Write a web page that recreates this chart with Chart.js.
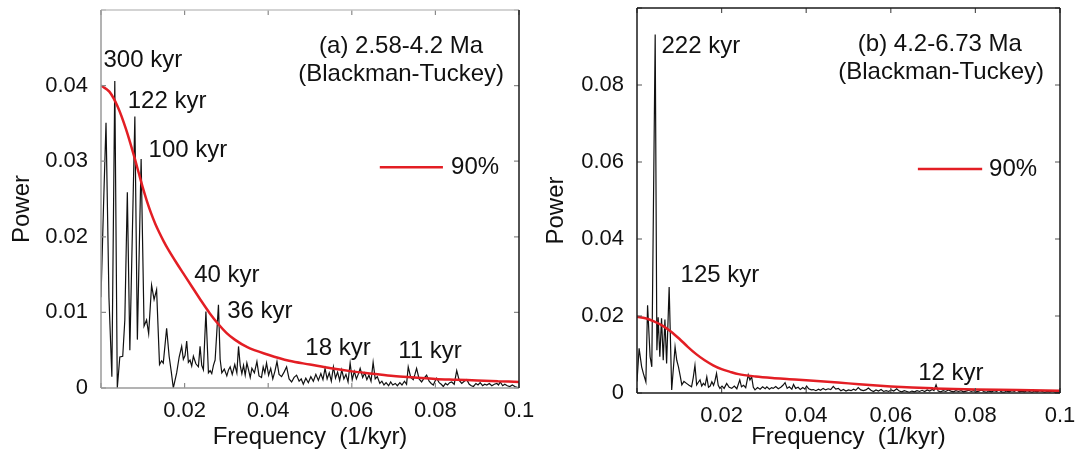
<!DOCTYPE html>
<html>
<head>
<meta charset="utf-8">
<script src="https://cdn.jsdelivr.net/npm/chart.js@4.4.1/dist/chart.umd.min.js"></script>
<style>
body { margin: 0; background: #fff; }
#wrap { position: relative; width: 1081px; height: 460px; overflow: hidden; }
canvas { position: absolute; top: 0; }
#chartA { left: 0; }
#chartB { left: 530px; }
</style>
</head>
<body>
<div id="wrap">
<canvas id="chartA" width="560" height="460"></canvas>
<canvas id="chartB" width="551" height="460"></canvas>
</div>
<script>
// ticks
var xTicks = [0, 0.02, 0.04, 0.06, 0.08, 0.1];
var xTickLabels = ["", "0.02", "0.04", "0.06", "0.08", "0.1"];
var yTicksA = [0, 0.01, 0.02, 0.03, 0.04, 0.05];
var yTickLabelsA = ["0", "0.01", "0.02", "0.03", "0.04", ""];
var yTicksB = [0, 0.02, 0.04, 0.06, 0.08, 0.1];
var yTickLabelsB = ["0", "0.02", "0.04", "0.06", "0.08", ""];

// (a) 2.58-4.2 Ma spectrum, [frequency, power]
var spectrumA = [
  [0.0000, 0.0120], [0.0006, 0.0240], [0.0012, 0.0351], [0.0019, 0.0120], [0.0026, 0.0015],
  [0.0033, 0.0406], [0.0039, 0.0000], [0.0045, 0.0041], [0.0052, 0.0042], [0.0057, 0.0090],
  [0.0063, 0.0259], [0.0069, 0.0050], [0.0081, 0.0359], [0.0087, 0.0064], [0.0096, 0.0303],
  [0.0103, 0.0082], [0.0109, 0.0090], [0.0114, 0.0072], [0.0121, 0.0136], [0.0127, 0.0117],
  [0.0133, 0.0130], [0.0140, 0.0031], [0.0145, 0.0036], [0.0149, 0.0033], [0.0157, 0.0079],
  [0.0163, 0.0042], [0.0168, 0.0022], [0.0173, 0.0000], [0.0181, 0.0020], [0.0187, 0.0041],
  [0.0193, 0.0055], [0.0197, 0.0038], [0.0201, 0.0043], [0.0205, 0.0062], [0.0209, 0.0034],
  [0.0213, 0.0037], [0.0217, 0.0029], [0.0221, 0.0042], [0.0227, 0.0032], [0.0233, 0.0028],
  [0.0237, 0.0055], [0.0241, 0.0030], [0.0245, 0.0024], [0.0251, 0.0101], [0.0257, 0.0020],
  [0.0261, 0.0023], [0.0265, 0.0019], [0.0269, 0.0030], [0.0273, 0.0037], [0.0281, 0.0110],
  [0.0285, 0.0038], [0.0289, 0.0020], [0.0295, 0.0025], [0.0301, 0.0016], [0.0305, 0.0024],
  [0.0309, 0.0028], [0.0314, 0.0018], [0.0320, 0.0031], [0.0325, 0.0020], [0.0329, 0.0055],
  [0.0333, 0.0030], [0.0337, 0.0019], [0.0341, 0.0030], [0.0345, 0.0017], [0.0349, 0.0033],
  [0.0353, 0.0024], [0.0357, 0.0014], [0.0361, 0.0026], [0.0367, 0.0020], [0.0373, 0.0035],
  [0.0378, 0.0016], [0.0384, 0.0014], [0.0388, 0.0028], [0.0392, 0.0020], [0.0396, 0.0033],
  [0.0401, 0.0017], [0.0406, 0.0026], [0.0411, 0.0012], [0.0416, 0.0022], [0.0421, 0.0035],
  [0.0426, 0.0018], [0.0432, 0.0015], [0.0438, 0.0021], [0.0444, 0.0028], [0.0450, 0.0012],
  [0.0456, 0.0008], [0.0462, 0.0014], [0.0468, 0.0017], [0.0474, 0.0009], [0.0479, 0.0012],
  [0.0484, 0.0005], [0.0490, 0.0013], [0.0496, 0.0007], [0.0502, 0.0015], [0.0508, 0.0009],
  [0.0514, 0.0018], [0.0520, 0.0010], [0.0526, 0.0019], [0.0531, 0.0011], [0.0536, 0.0026],
  [0.0541, 0.0012], [0.0546, 0.0020], [0.0551, 0.0009], [0.0556, 0.0028], [0.0561, 0.0013],
  [0.0566, 0.0021], [0.0571, 0.0010], [0.0576, 0.0024], [0.0581, 0.0012], [0.0586, 0.0018],
  [0.0591, 0.0008], [0.0596, 0.0033], [0.0601, 0.0011], [0.0606, 0.0022], [0.0611, 0.0012],
  [0.0616, 0.0019], [0.0620, 0.0026], [0.0626, 0.0014], [0.0631, 0.0020], [0.0636, 0.0011],
  [0.0641, 0.0017], [0.0646, 0.0009], [0.0651, 0.0034], [0.0656, 0.0012], [0.0661, 0.0015],
  [0.0667, 0.0006], [0.0672, 0.0009], [0.0677, 0.0004], [0.0682, 0.0007], [0.0688, 0.0003],
  [0.0693, 0.0008], [0.0698, 0.0004], [0.0704, 0.0006], [0.0709, 0.0003], [0.0715, 0.0007],
  [0.0720, 0.0004], [0.0726, 0.0009], [0.0731, 0.0005], [0.0735, 0.0028], [0.0741, 0.0014],
  [0.0747, 0.0011], [0.0751, 0.0018], [0.0755, 0.0026], [0.0761, 0.0012], [0.0767, 0.0008],
  [0.0773, 0.0013], [0.0779, 0.0017], [0.0785, 0.0009], [0.0790, 0.0006], [0.0795, 0.0004],
  [0.0799, 0.0009], [0.0803, 0.0013], [0.0809, 0.0007], [0.0814, 0.0005], [0.0819, 0.0002],
  [0.0824, 0.0006], [0.0829, 0.0004], [0.0834, 0.0007], [0.0839, 0.0008], [0.0845, 0.0005],
  [0.0851, 0.0023], [0.0857, 0.0010], [0.0863, 0.0006], [0.0869, 0.0009], [0.0875, 0.0011],
  [0.0881, 0.0005], [0.0886, 0.0003], [0.0891, 0.0002], [0.0897, 0.0006], [0.0902, 0.0004],
  [0.0907, 0.0007], [0.0913, 0.0003], [0.0918, 0.0005], [0.0923, 0.0004], [0.0929, 0.0006],
  [0.0935, 0.0003], [0.0941, 0.0005], [0.0947, 0.0006], [0.0951, 0.0004], [0.0955, 0.0008],
  [0.0961, 0.0003], [0.0966, 0.0005], [0.0972, 0.0003], [0.0978, 0.0002], [0.0984, 0.0004],
  [0.0990, 0.0002], [0.0995, 0.0001], [0.1000, 0.0000]
];

// (a) 90% confidence level
var levelA = [
  [0.000, 0.0400], [0.002, 0.0392], [0.004, 0.0372], [0.006, 0.0342], [0.008, 0.0305],
  [0.009, 0.0285], [0.010, 0.0265], [0.011, 0.0247], [0.012, 0.0231], [0.013, 0.0217],
  [0.014, 0.0205], [0.015, 0.0194], [0.016, 0.0184], [0.018, 0.0166], [0.020, 0.0149],
  [0.022, 0.0132], [0.024, 0.0115], [0.026, 0.0099], [0.028, 0.0085], [0.030, 0.0073],
  [0.032, 0.0064], [0.035, 0.0054], [0.040, 0.0044], [0.045, 0.0036], [0.050, 0.0031],
  [0.055, 0.0026], [0.060, 0.0022], [0.065, 0.0019], [0.070, 0.0016], [0.075, 0.0014],
  [0.080, 0.0012], [0.085, 0.0011], [0.090, 0.0010], [0.095, 0.0009], [0.100, 0.0008]
];

// (b) 4.2-6.73 Ma spectrum, [frequency, power]
var spectrumB = [
  [0.0000, 0.0030], [0.0005, 0.0116], [0.0011, 0.0068], [0.0015, 0.0051], [0.0021, 0.0029],
  [0.0025, 0.0228], [0.0031, 0.0094], [0.0035, 0.0068], [0.0043, 0.0931], [0.0047, 0.0111],
  [0.0050, 0.0197], [0.0054, 0.0094], [0.0058, 0.0194], [0.0062, 0.0085], [0.0066, 0.0191],
  [0.0070, 0.0077], [0.0073, 0.0174], [0.0076, 0.0275], [0.0082, 0.0008], [0.0090, 0.0120],
  [0.0094, 0.0085], [0.0098, 0.0068], [0.0102, 0.0045], [0.0106, 0.0021], [0.0111, 0.0030],
  [0.0117, 0.0025], [0.0123, 0.0020], [0.0129, 0.0016], [0.0133, 0.0040], [0.0137, 0.0072],
  [0.0141, 0.0021], [0.0145, 0.0028], [0.0149, 0.0034], [0.0153, 0.0018], [0.0157, 0.0025],
  [0.0161, 0.0020], [0.0165, 0.0042], [0.0169, 0.0015], [0.0173, 0.0018], [0.0177, 0.0029],
  [0.0181, 0.0020], [0.0184, 0.0030], [0.0188, 0.0051], [0.0192, 0.0020], [0.0196, 0.0012],
  [0.0201, 0.0018], [0.0206, 0.0012], [0.0212, 0.0025], [0.0218, 0.0015], [0.0224, 0.0012],
  [0.0230, 0.0018], [0.0236, 0.0011], [0.0243, 0.0034], [0.0247, 0.0016], [0.0252, 0.0020],
  [0.0257, 0.0014], [0.0263, 0.0047], [0.0267, 0.0034], [0.0271, 0.0042], [0.0275, 0.0015],
  [0.0279, 0.0008], [0.0285, 0.0014], [0.0291, 0.0010], [0.0297, 0.0016], [0.0303, 0.0011],
  [0.0307, 0.0016], [0.0313, 0.0010], [0.0318, 0.0014], [0.0322, 0.0012], [0.0328, 0.0017],
  [0.0334, 0.0011], [0.0340, 0.0015], [0.0345, 0.0020], [0.0350, 0.0027], [0.0355, 0.0012],
  [0.0360, 0.0016], [0.0366, 0.0010], [0.0370, 0.0022], [0.0375, 0.0012], [0.0381, 0.0015],
  [0.0386, 0.0009], [0.0392, 0.0014], [0.0397, 0.0010], [0.0401, 0.0018], [0.0406, 0.0011],
  [0.0412, 0.0008], [0.0417, 0.0009], [0.0423, 0.0006], [0.0429, 0.0010], [0.0434, 0.0007],
  [0.0440, 0.0012], [0.0446, 0.0008], [0.0452, 0.0011], [0.0458, 0.0009], [0.0464, 0.0017],
  [0.0470, 0.0010], [0.0476, 0.0012], [0.0482, 0.0006], [0.0488, 0.0009], [0.0494, 0.0005],
  [0.0500, 0.0008], [0.0506, 0.0006], [0.0512, 0.0010], [0.0517, 0.0007], [0.0523, 0.0014],
  [0.0529, 0.0008], [0.0535, 0.0006], [0.0541, 0.0008], [0.0547, 0.0013], [0.0553, 0.0007],
  [0.0559, 0.0004], [0.0565, 0.0008], [0.0571, 0.0005], [0.0577, 0.0009], [0.0583, 0.0004],
  [0.0589, 0.0006], [0.0595, 0.0004], [0.0601, 0.0008], [0.0607, 0.0005], [0.0614, 0.0011],
  [0.0620, 0.0005], [0.0626, 0.0003], [0.0632, 0.0006], [0.0638, 0.0004], [0.0644, 0.0002],
  [0.0650, 0.0005], [0.0656, 0.0003], [0.0662, 0.0006], [0.0668, 0.0004], [0.0674, 0.0007],
  [0.0680, 0.0004], [0.0686, 0.0008], [0.0692, 0.0005], [0.0698, 0.0009], [0.0702, 0.0006],
  [0.0707, 0.0021], [0.0712, 0.0005], [0.0718, 0.0003], [0.0724, 0.0006], [0.0730, 0.0004],
  [0.0736, 0.0008], [0.0742, 0.0005], [0.0748, 0.0003], [0.0754, 0.0006], [0.0760, 0.0004],
  [0.0766, 0.0006], [0.0772, 0.0003], [0.0778, 0.0005], [0.0784, 0.0007], [0.0790, 0.0004],
  [0.0796, 0.0006], [0.0802, 0.0003], [0.0808, 0.0005], [0.0814, 0.0008], [0.0820, 0.0004],
  [0.0826, 0.0002], [0.0832, 0.0005], [0.0838, 0.0003], [0.0844, 0.0006], [0.0850, 0.0004],
  [0.0856, 0.0007], [0.0862, 0.0003], [0.0868, 0.0002], [0.0874, 0.0005], [0.0880, 0.0003],
  [0.0886, 0.0006], [0.0892, 0.0004], [0.0898, 0.0008], [0.0904, 0.0003], [0.0910, 0.0005],
  [0.0916, 0.0003], [0.0922, 0.0006], [0.0928, 0.0004], [0.0934, 0.0002], [0.0940, 0.0005],
  [0.0946, 0.0003], [0.0952, 0.0006], [0.0958, 0.0004], [0.0964, 0.0002], [0.0970, 0.0004],
  [0.0976, 0.0003], [0.0982, 0.0005], [0.0988, 0.0002], [0.0994, 0.0003], [0.1000, 0.0002]
];

// (b) 90% confidence level
var levelB = [
  [0.000, 0.0198], [0.002, 0.0194], [0.004, 0.0186], [0.006, 0.0175], [0.008, 0.0160],
  [0.010, 0.0141], [0.012, 0.0120], [0.014, 0.0101], [0.016, 0.0085], [0.018, 0.0072],
  [0.020, 0.0062], [0.022, 0.0055], [0.024, 0.0049], [0.028, 0.0043], [0.032, 0.0039],
  [0.036, 0.0036], [0.040, 0.0033], [0.045, 0.0029], [0.050, 0.0025], [0.055, 0.0021],
  [0.060, 0.0017], [0.065, 0.0014], [0.070, 0.0012], [0.080, 0.0009], [0.090, 0.0008],
  [0.100, 0.0006]
];

// peak labels (placed in data units)
var notesA = [
  { text: "300 kyr", x: 0.0100, y: 0.0433 },
  { text: "122 kyr", x: 0.0158, y: 0.0379 },
  { text: "100 kyr", x: 0.0208, y: 0.0314 },
  { text: "40 kyr", x: 0.0301, y: 0.0149 },
  { text: "36 kyr", x: 0.0380, y: 0.0102 },
  { text: "18 kyr", x: 0.0567, y: 0.0052 },
  { text: "11 kyr", x: 0.0787, y: 0.0048 },
  { text: "(a) 2.58-4.2 Ma", x: 0.0718, y: 0.0452 },
  { text: "(Blackman-Tuckey)", x: 0.0718, y: 0.0415 }
];
var notesB = [
  { text: "222 kyr", x: 0.0151, y: 0.0900 },
  { text: "125 kyr", x: 0.0196, y: 0.0305 },
  { text: "12 kyr", x: 0.0742, y: 0.0052 },
  { text: "(b) 4.2-6.73 Ma", x: 0.0716, y: 0.0906 },
  { text: "(Blackman-Tuckey)", x: 0.0719, y: 0.0833 }
];
var keyA = { x1: 0.0667, x2: 0.0818, y: 0.0292, tx: 0.0895, label: "90%" };
var keyB = { x1: 0.0664, x2: 0.0816, y: 0.0582, tx: 0.0889, label: "90%" };

var RED = "#e31e24";
var FONT = "'Liberation Sans', Arial, sans-serif";
Chart.defaults.font.family = FONT;
Chart.defaults.color = "#111";

function toPoints(rows) {
    return rows.map(function (r) { return { x: r[0], y: r[1] }; });
}

// box around the plot with inward ticks
var framePlugin = {
    id: "frame",
    afterDatasetsDraw: function (chart, args, opts) {
        var ctx = chart.ctx, a = chart.chartArea;
        var x = chart.scales.x, y = chart.scales.y;
        var tl = 5;
        ctx.save();
        ctx.lineWidth = 1.2;
        ctx.strokeStyle = opts.tickColor;
        x.ticks.forEach(function (t) {
            var px = x.getPixelForValue(t.value);
            ctx.beginPath();
            ctx.moveTo(px, a.bottom); ctx.lineTo(px, a.bottom - tl);
            ctx.moveTo(px, a.top); ctx.lineTo(px, a.top + tl);
            ctx.stroke();
        });
        y.ticks.forEach(function (t) {
            var py = y.getPixelForValue(t.value);
            ctx.beginPath();
            ctx.moveTo(a.left, py); ctx.lineTo(a.left + tl, py);
            ctx.moveTo(a.right, py); ctx.lineTo(a.right - tl, py);
            ctx.stroke();
        });
        function edge(c, x1, y1, x2, y2) {
            ctx.strokeStyle = c;
            ctx.beginPath(); ctx.moveTo(x1, y1); ctx.lineTo(x2, y2); ctx.stroke();
        }
        ctx.lineWidth = 1.5;
        edge(opts.top, a.left, a.top, a.right, a.top);
        edge(opts.bottom, a.left, a.bottom, a.right, a.bottom);
        edge(opts.left, a.left, a.top, a.left, a.bottom);
        edge(opts.right, a.right, a.top, a.right, a.bottom);
        ctx.restore();
    }
};

// peak labels, panel title and the 90% key
var notesPlugin = {
    id: "notes",
    afterDraw: function (chart, args, opts) {
        var ctx = chart.ctx;
        var x = chart.scales.x, y = chart.scales.y;
        ctx.save();
        ctx.fillStyle = "#111";
        ctx.font = "24px " + FONT;
        ctx.textAlign = "center";
        ctx.textBaseline = "middle";
        opts.items.forEach(function (n) {
            ctx.fillText(n.text, x.getPixelForValue(n.x), y.getPixelForValue(n.y));
        });
        var k = opts.key;
        var ky = y.getPixelForValue(k.y);
        ctx.strokeStyle = RED;
        ctx.lineWidth = 2.5;
        ctx.beginPath();
        ctx.moveTo(x.getPixelForValue(k.x1), ky);
        ctx.lineTo(x.getPixelForValue(k.x2), ky);
        ctx.stroke();
        ctx.fillText(k.label, x.getPixelForValue(k.tx), ky);
        ctx.restore();
    }
};

function makeChart(id, spectrum, level, yTicks, yLabels, yMax, yWidth, pad, xHeight, titlePad, frame, notes, key) {
    return new Chart(document.getElementById(id), {
        type: "line",
        data: {
            datasets: [
                {
                    data: toPoints(level),
                    borderColor: RED,
                    borderWidth: 2.5,
                    pointRadius: 0,
                    cubicInterpolationMode: "monotone"
                },
                {
                    data: toPoints(spectrum),
                    borderColor: "#111",
                    borderWidth: 1.2,
                    pointRadius: 0,
                    tension: 0
                }
            ]
        },
        options: {
            responsive: false,
            animation: false,
            devicePixelRatio: 1,
            layout: { padding: pad },
            plugins: {
                legend: { display: false },
                tooltip: { enabled: false },
                frame: frame,
                notes: { items: notes, key: key }
            },
            scales: {
                x: {
                    type: "linear",
                    min: 0,
                    max: 0.1,
                    grid: { display: false },
                    border: { display: false },
                    afterBuildTicks: function (s) {
                        s.ticks = xTicks.map(function (v) { return { value: v }; });
                    },
                    afterFit: function (s) {
                        s.height = xHeight;
                        s.paddingLeft = 0; s.paddingRight = 0;
                    },
                    ticks: {
                        autoSkip: false,
                        maxRotation: 0,
                        padding: 2,
                        color: "#111",
                        font: { size: 22 },
                        callback: function (v, i) { return xTickLabels[i]; }
                    },
                    title: {
                        display: true,
                        text: "Frequency  (1/kyr)",
                        color: "#111",
                        font: { size: 24 },
                        padding: { top: 0, bottom: 8 }
                    }
                },
                y: {
                    type: "linear",
                    min: 0,
                    max: yMax,
                    grid: { display: false },
                    border: { display: false },
                    afterBuildTicks: function (s) {
                        s.ticks = yTicks.map(function (v) { return { value: v }; });
                    },
                    afterFit: function (s) {
                        s.width = yWidth;
                        s.paddingTop = 0; s.paddingBottom = 0;
                    },
                    ticks: {
                        autoSkip: false,
                        padding: 5,
                        color: "#111",
                        font: { size: 22 },
                        callback: function (v, i) { return yLabels[i]; }
                    },
                    title: {
                        display: true,
                        text: "Power   ",
                        color: "#111",
                        font: { size: 24 },
                        padding: { top: titlePad, bottom: 0 }
                    }
                }
            }
        },
        plugins: [framePlugin, notesPlugin]
    });
}

makeChart("chartA", spectrumA, levelA, yTicksA, yTickLabelsA, 0.05, 101,
    { top: 10, right: 41, bottom: 0, left: 0 }, 72, 8,
    { top: "#c4c4c4", bottom: "#9a9a9a", left: "#9a9a9a", right: "#1a1a1a", tickColor: "#8a8a8a" },
    notesA, keyA);

makeChart("chartB", spectrumB, levelB, yTicksB, yTickLabelsB, 0.1, 107,
    { top: 8, right: 21, bottom: 0, left: 0 }, 67, 12,
    { top: "#1a1a1a", bottom: "#1a1a1a", left: "#1a1a1a", right: "#1a1a1a", tickColor: "#555" },
    notesB, keyB);
</script>
</body>
</html>
